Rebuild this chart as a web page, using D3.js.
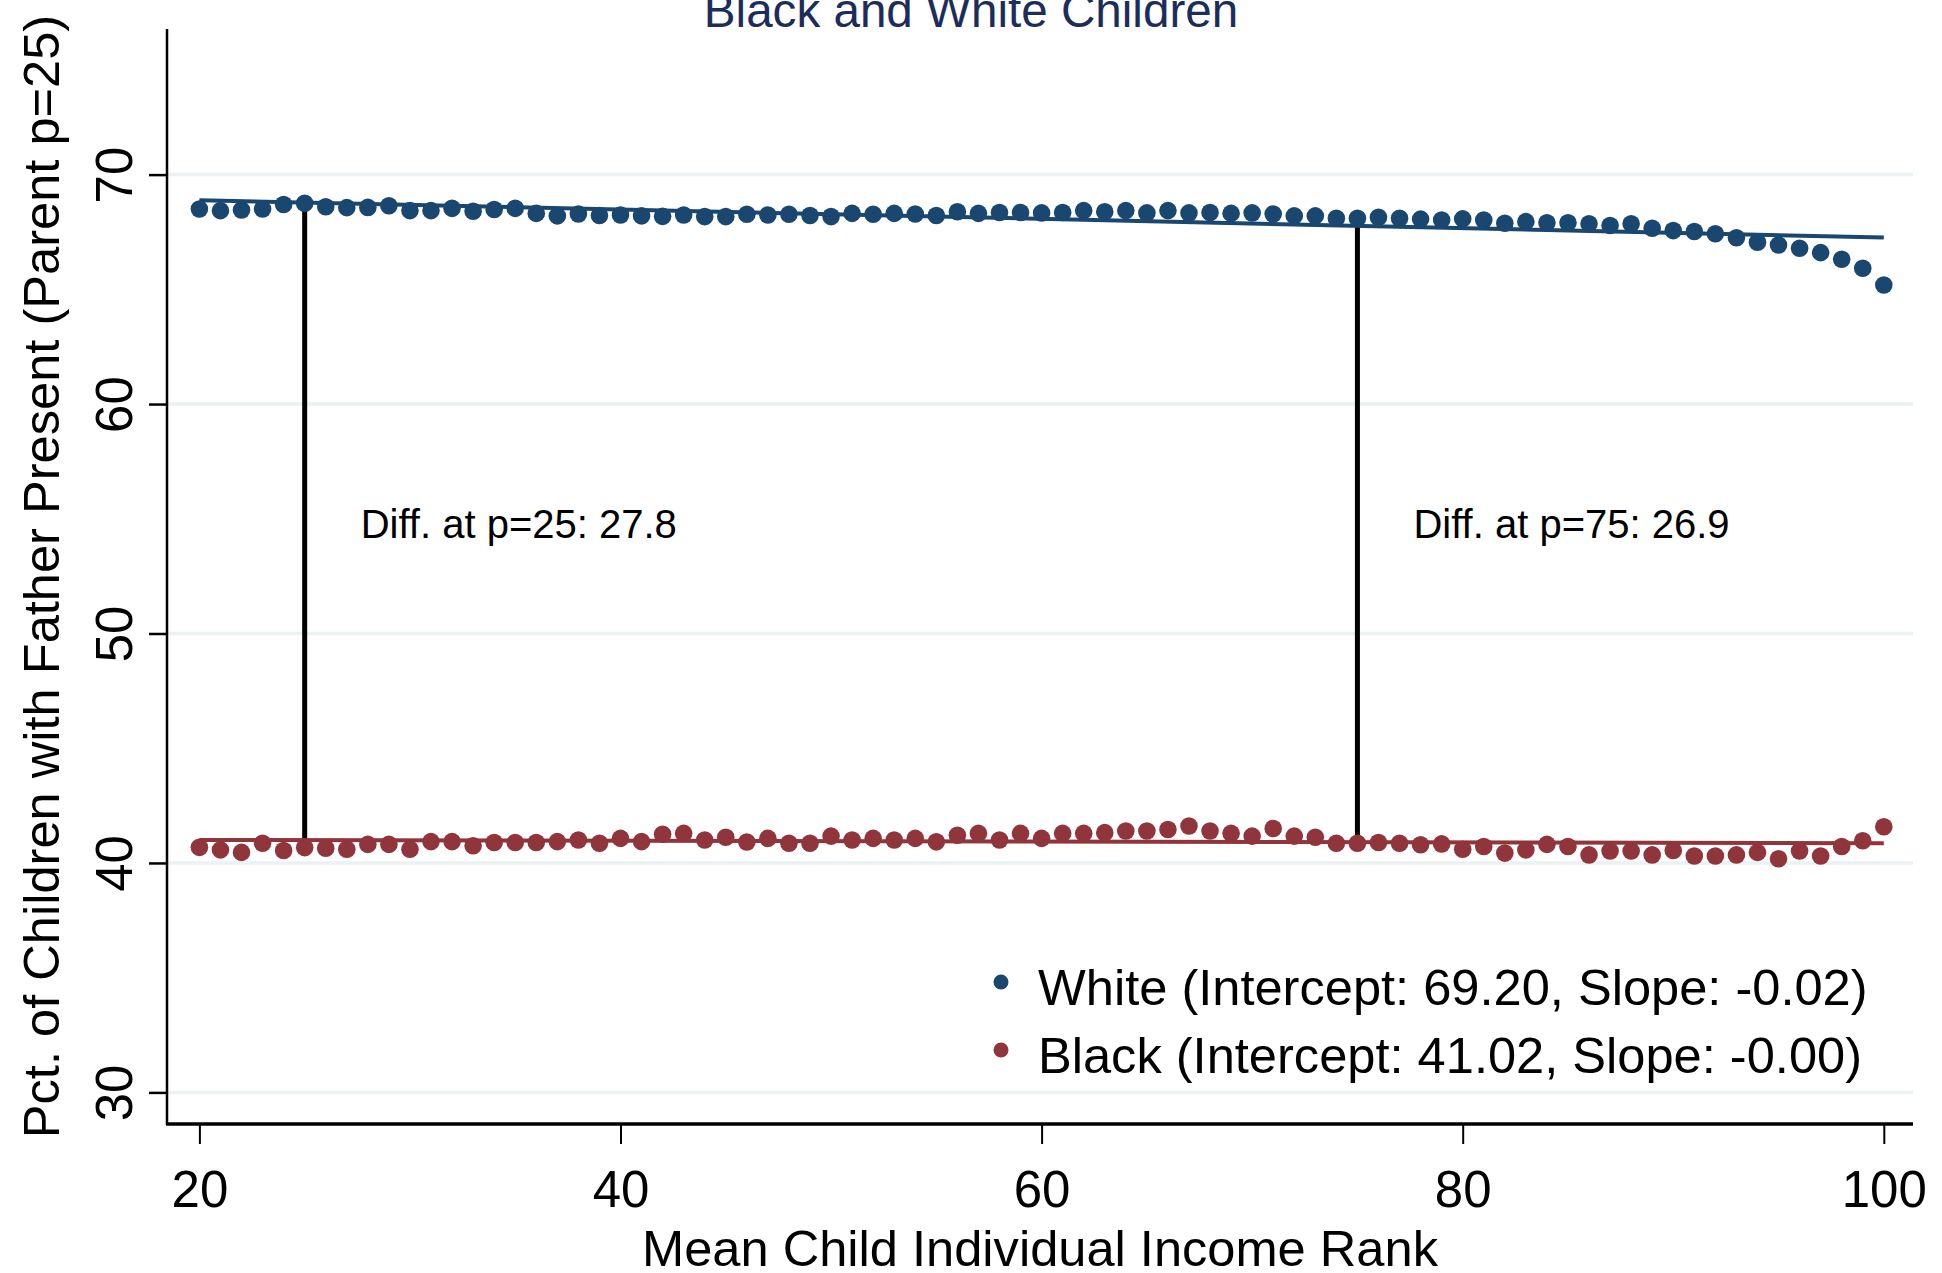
<!DOCTYPE html>
<html>
<head>
<meta charset="utf-8">
<script src="https://cdn.jsdelivr.net/npm/d3@7"></script>
<style>
  html, body { margin: 0; padding: 0; background: #ffffff; }
  svg { display: block; }
  text { font-family: "Liberation Sans", Arial, Helvetica, sans-serif; }
</style>
</head>
<body>
<svg id="chart" width="1942" height="1273"></svg>
<script>
// ---------------- data ----------------
const ranks = [20,21,22,23,24,25,26,27,28,29,30,31,32,33,34,35,36,37,38,39,40,
  41,42,43,44,45,46,47,48,49,50,51,52,53,54,55,56,57,58,59,60,
  61,62,63,64,65,66,67,68,69,70,71,72,73,74,75,76,77,78,79,80,
  81,82,83,84,85,86,87,88,89,90,91,92,93,94,95,96,97,98,99,100];

const whiteValues = [68.50,68.43,68.46,68.50,68.70,68.75,68.60,68.56,68.57,68.64,68.43,
  68.43,68.53,68.40,68.48,68.53,68.31,68.20,68.28,68.22,68.24,
  68.20,68.18,68.24,68.17,68.17,68.27,68.24,68.27,68.22,68.17,
  68.31,68.27,68.31,68.28,68.22,68.38,68.31,68.35,68.35,68.33,
  68.35,68.43,68.38,68.43,68.33,68.43,68.33,68.35,68.31,68.33,
  68.28,68.20,68.20,68.10,68.10,68.14,68.10,68.06,68.02,68.07,
  68.02,67.88,67.95,67.90,67.90,67.86,67.78,67.86,67.66,67.56,
  67.52,67.42,67.25,67.05,66.93,66.79,66.60,66.31,65.92,65.19];

const blackValues = [40.68,40.57,40.46,40.86,40.54,40.67,40.64,40.60,40.81,40.81,40.60,
  40.93,40.93,40.75,40.89,40.89,40.89,40.93,41.00,40.86,41.07,
  40.93,41.25,41.29,41.00,41.12,40.91,41.07,40.86,40.86,41.17,
  41.00,41.07,41.00,41.07,40.92,41.21,41.29,41.00,41.29,41.07,
  41.29,41.29,41.32,41.39,41.39,41.46,41.61,41.39,41.29,41.17,
  41.50,41.17,41.12,40.86,40.86,40.89,40.86,40.79,40.83,40.60,
  40.72,40.43,40.57,40.81,40.72,40.35,40.52,40.52,40.35,40.54,
  40.30,40.30,40.35,40.46,40.18,40.52,40.30,40.72,40.97,41.58];

const seriesNames = ["White", "Black"];
const legendLabels = ["White (Intercept: 69.20, Slope: -0.02)", "Black (Intercept: 41.02, Slope: -0.00)"];
// fitted lines as drawn (intercept, slope)
const fitIntercepts = [69.29, 41.035];
const fitSlopes = [-0.0203, -0.00175];
const fitRange = [20, 100];

const diffRanks = [25, 75];
const diffLabels = ["Diff. at p=25: 27.8", "Diff. at p=75: 26.9"];

const xTicks = [20, 40, 60, 80, 100];
const yTicks = [30, 40, 50, 60, 70];

const titleText = "Black and White Children";
const xTitle = "Mean Child Individual Income Rank";
const yTitle = "Pct. of Children with Father Present (Parent p=25)";

// ---------------- layout ----------------
const colors = ["#1a476f", "#90353b"];
const plot = { left: 167, right: 1913, top: 29, bottom: 1124 };
const x = d3.scaleLinear().domain([20, 100]).range([199.4, 1883.8]);
const y = d3.scaleLinear().domain([30, 70]).range([1092.4, 174.6]);

const svg = d3.select("#chart");

// gridlines
svg.append("g").selectAll("line").data(yTicks).join("line")
  .attr("x1", plot.left).attr("x2", plot.right)
  .attr("y1", d => y(d)).attr("y2", d => y(d))
  .attr("stroke", "#eaf2f3").attr("stroke-width", 3.5);

// y axis
const yAxis = d3.axisLeft(y).tickValues(yTicks).tickSize(18).tickPadding(0).tickFormat(d3.format("d"));
const gy = svg.append("g").attr("transform", `translate(${plot.left},0)`).call(yAxis);
gy.select(".domain").remove();
gy.selectAll(".tick line").attr("stroke", "#000").attr("stroke-width", 2.5);
gy.selectAll(".tick text")
  .attr("x", null).attr("dy", null)
  .attr("transform", `translate(-35,0) rotate(-90)`)
  .attr("text-anchor", "middle")
  .attr("fill", "#000")
  .style("font-size", "51px");
svg.append("line").attr("x1", plot.left).attr("x2", plot.left)
  .attr("y1", plot.top).attr("y2", plot.bottom + 1)
  .attr("stroke", "#000").attr("stroke-width", 2.5);

// x axis
const xAxis = d3.axisBottom(x).tickValues(xTicks).tickSize(20).tickPadding(0).tickFormat(d3.format("d"));
const gx = svg.append("g").attr("transform", `translate(0,${plot.bottom})`).call(xAxis);
gx.select(".domain").remove();
gx.selectAll(".tick line").attr("stroke", "#000").attr("stroke-width", 2);
gx.selectAll(".tick text")
  .attr("y", 83).attr("dy", null)
  .attr("fill", "#000")
  .style("font-size", "51px");
svg.append("line").attr("x1", plot.left - 1).attr("x2", plot.right)
  .attr("y1", plot.bottom).attr("y2", plot.bottom)
  .attr("stroke", "#000").attr("stroke-width", 3.5);

// vertical difference lines
svg.append("g").selectAll("line").data(diffRanks).join("line")
  .attr("x1", d => x(d)).attr("x2", d => x(d))
  .attr("y1", d => y(fitIntercepts[0] + fitSlopes[0] * d))
  .attr("y2", d => y(fitIntercepts[1] + fitSlopes[1] * d))
  .attr("stroke", "#000").attr("stroke-width", 5);

// scatter points
const seriesValues = [whiteValues, blackValues];
seriesValues.forEach((vals, si) => {
  svg.append("g").selectAll("circle").data(ranks).join("circle")
    .attr("cx", d => x(d))
    .attr("cy", (d, i) => y(vals[i]))
    .attr("r", 8.8)
    .attr("fill", colors[si]);
});

// fit lines
const line = d3.line().x(d => x(d[0])).y(d => y(d[1]));
fitIntercepts.forEach((b, si) => {
  const pts = fitRange.map(r => [r, b + fitSlopes[si] * r]);
  svg.append("path").attr("d", line(pts))
    .attr("fill", "none").attr("stroke", colors[si]).attr("stroke-width", 4);
});

// difference labels
svg.append("g").selectAll("text").data(diffRanks).join("text")
  .attr("x", d => x(d) + 56)
  .attr("y", 538)
  .text((d, i) => diffLabels[i])
  .attr("fill", "#000")
  .style("font-size", "40px");

// legend
const legend = svg.append("g");
legendLabels.forEach((lab, i) => {
  legend.append("circle").attr("cx", 1001).attr("cy", 982 + i * 68).attr("r", 7.5).attr("fill", colors[i]);
  legend.append("text").attr("x", 1038).attr("y", 1005 + i * 68).text(lab)
    .attr("fill", "#000").style("font-size", "50.6px");
});

// titles
svg.append("text").attr("x", 971).attr("y", 27).attr("text-anchor", "middle")
  .attr("fill", "#1c2d5b").style("font-size", "47.6px").text(titleText);
svg.append("text").attr("x", (plot.left + plot.right) / 2).attr("y", 1266).attr("text-anchor", "middle")
  .attr("fill", "#000").style("font-size", "50.6px").text(xTitle);
svg.append("text").attr("transform", `translate(59,${(plot.top + plot.bottom) / 2}) rotate(-90)`)
  .attr("text-anchor", "middle")
  .attr("fill", "#000").style("font-size", "50.6px").text(yTitle);
</script>
</body>
</html>
